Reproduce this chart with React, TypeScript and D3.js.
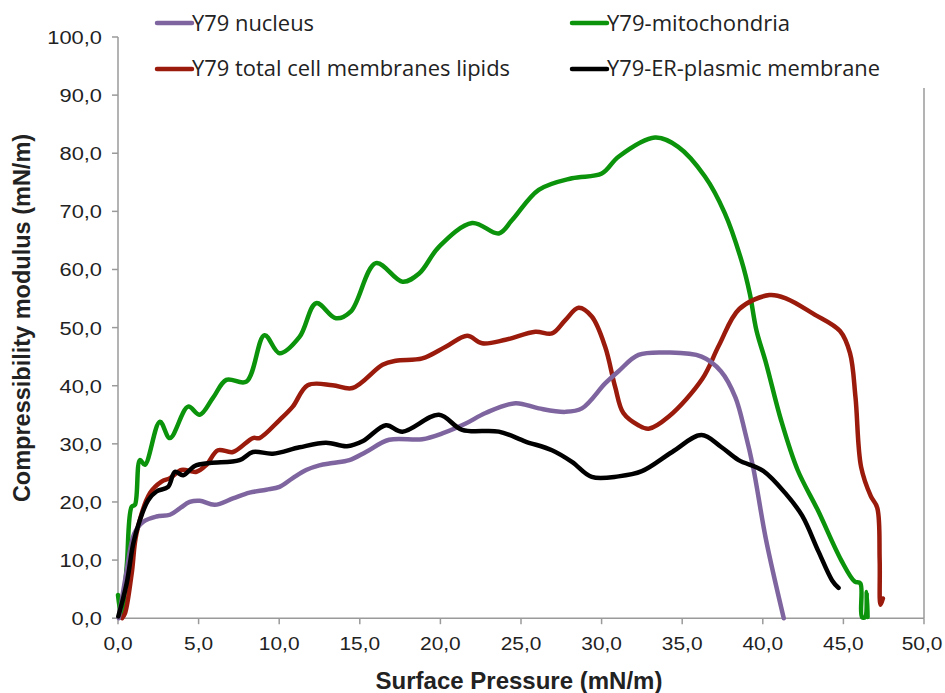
import React from "react";
import * as d3 from "d3";

const seriesNames = [
  "Y79 nucleus",
  "Y79-mitochondria",
  "Y79 total cell membranes lipids",
  "Y79-ER-plasmic membrane",
];
const seriesColors = ["#7F659F", "#0B930B", "#9A1B0C", "#000000"];

const nucleusData: [number, number][] = [
  [0.05, 0], [0.5, 7.5], [1.0, 14.5], [1.57, 16.6], [2.39, 17.5], [3.22, 17.8], [3.83, 18.9],
  [4.45, 20.0], [5.07, 20.2], [6.0, 19.5], [7.13, 20.6], [8.16, 21.6], [9.2, 22.1], [10.02, 22.6],
  [10.84, 24.1], [11.67, 25.5], [12.49, 26.3], [13.31, 26.7], [14.35, 27.2], [15.38, 28.6],
  [16.82, 30.7], [18.88, 30.8], [20.12, 31.8], [21.57, 33.5], [22.8, 35.3], [24.66, 37.0],
  [26.1, 36.1], [27.75, 35.5], [28.78, 36.1], [30.22, 40.4], [31.05, 42.5], [32.29, 45.3],
  [34.17, 45.7], [36.2, 45.0], [37.4, 42.5], [38.3, 38.0], [38.9, 32.0], [39.4, 26.0],
  [40.2, 13.5], [41.3, 0],
];

const mitoData: [number, number][] = [
  [0.0, 4.0], [0.22, 0.3], [0.54, 8.9], [0.85, 19.2], [1.05, 19.5], [1.36, 27.2], [1.67, 26.4],
  [2.6, 33.8], [3.22, 31.0], [4.35, 36.4], [5.07, 35.0], [5.89, 37.9], [6.72, 41.0], [7.96, 40.7],
  [9.09, 48.7], [10.02, 45.6], [11.26, 48.4], [12.29, 54.2], [13.52, 51.6], [14.45, 52.8],
  [16.0, 61.1], [17.65, 57.9], [18.68, 59.3], [19.91, 63.9], [21.97, 68.0], [23.62, 66.2],
  [24.45, 68.5], [26.1, 73.7], [28.16, 75.7], [30.01, 76.5], [31.05, 79.4], [33.31, 82.7],
  [34.75, 81.1], [36.41, 76.0], [37.64, 69.7], [38.67, 61.6], [39.19, 55.9], [39.6, 49.6],
  [40.2, 43.9], [41.13, 34.1], [42.16, 25.5], [43.41, 18.6], [44.86, 10.0], [45.7, 6.3],
  [46.05, 6.0], [46.15, 0.2], [46.35, 0.2], [46.45, 4.5], [46.5, 0.2],
];

const lipidsData: [number, number][] = [
  [0.25, 0], [0.43, 0.8], [0.85, 7.7], [1.15, 14.6], [1.98, 21.5], [2.7, 23.5], [3.22, 24.1],
  [3.94, 25.5], [4.87, 25.2], [5.49, 26.4], [6.2, 28.9], [7.13, 28.6], [8.37, 31.0], [8.78, 31.0],
  [10.02, 34.1], [10.84, 36.4], [11.77, 40.1], [13.31, 40.1], [14.55, 39.6], [16.41, 43.6],
  [17.24, 44.3], [18.88, 44.7], [20.33, 46.7], [21.66, 48.6], [22.59, 47.3], [24.04, 47.9],
  [25.89, 49.3], [26.92, 49.0], [27.75, 51.3], [28.57, 53.4], [29.39, 51.9], [30.22, 46.7],
  [30.84, 39.8], [31.35, 35.3], [32.28, 33.2], [32.92, 32.6], [34.17, 34.7], [36.25, 41.2],
  [37.29, 47.0], [38.54, 53.2], [40.41, 55.6], [41.46, 55.0], [43.12, 52.4], [44.79, 49.4],
  [45.41, 45.6], [45.75, 38.0], [46.1, 26.0], [46.7, 21.0], [47.1, 19.0], [47.25, 10.0],
  [47.3, 2.3], [47.45, 3.4],
];

const erData: [number, number][] = [
  [0.02, 0.3], [0.54, 6.0], [0.95, 12.9], [1.36, 16.9], [1.87, 20.3], [2.39, 21.8], [3.11, 22.6],
  [3.53, 25.2], [4.04, 24.6], [4.76, 26.2], [5.69, 26.7], [7.54, 27.2], [8.37, 28.6], [9.6, 28.3],
  [11.26, 29.4], [12.9, 30.2], [14.2, 29.6], [15.2, 30.5], [16.62, 33.2], [17.64, 32.1],
  [19.91, 35.0], [21.35, 32.4], [23.62, 32.1], [25.28, 30.4], [26.92, 28.9], [28.16, 26.9],
  [29.39, 24.3], [31.05, 24.4], [32.5, 25.3], [34.38, 28.6], [36.2, 31.5], [37.4, 29.5],
  [38.5, 27.2], [40.0, 25.4], [41.46, 21.3], [42.45, 17.6], [43.45, 11.5], [44.3, 6.5],
  [44.7, 5.2],
];

const xTicks = [0, 5, 10, 15, 20, 25, 30, 35, 40, 45, 50];
const yTicks = [0, 10, 20, 30, 40, 50, 60, 70, 80, 90, 100];
const xTitle = "Surface Pressure (mN/m)";
const yTitle = "Compressibility modulus (mN/m)";

const W = 945;
const H = 693;
const fmt = (v: number) => d3.format(".1f")(v).replace(".", ",");

export default function App() {
  const x = d3.scaleLinear().domain([0, 50]).range([118, 924]);
  const y = d3.scaleLinear().domain([0, 100]).range([618.2, 37]);
  const line = d3
    .line<[number, number]>()
    .x((d) => x(d[0]))
    .y((d) => y(d[1]))
    .curve(d3.curveCatmullRom.alpha(0.5));

  const series = [nucleusData, mitoData, lipidsData, erData];
  const drawOrder = [1, 2, 0, 3];
  const axisColor = "#9a9a9a";
  const tickFont = "'Liberation Sans', Arial, sans-serif";

  const legendPos = [
    { lx: 157, ly: 23, tx: 192, ty: 31, len: 122 },
    { lx: 572, ly: 23, tx: 607, ty: 31, len: 183 },
    { lx: 157, ly: 69, tx: 192, ty: 76, len: 318 },
    { lx: 572, ly: 69, tx: 607, ty: 76, len: 273 },
  ];

  return (
    <svg
      width={W}
      height={H}
      style={{ position: "absolute", left: 0, top: 0, background: "#fff" }}
    >
      <rect x={0} y={0} width={W} height={H} fill="#fff" />
      <line x1={x(0)} x2={x(0)} y1={y(100)} y2={y(0)} stroke={axisColor} strokeWidth={1.5} />
      <line x1={x(0)} x2={x(50)} y1={y(0)} y2={y(0)} stroke={axisColor} strokeWidth={1.5} />
      <line x1={x(50)} x2={x(50)} y1={88} y2={y(0)} stroke={axisColor} strokeWidth={1.5} />
      {yTicks.map((t) => (
        <g key={"y" + t}>
          <line x1={x(0) - 6} x2={x(0)} y1={y(t)} y2={y(t)} stroke={axisColor} strokeWidth={1.5} />
          <text
            transform={`translate(${x(0) - 16},${y(t) + 7}) scale(1.15,1)`}
            textAnchor="end"
            fontFamily={tickFont}
            fontSize={19}
            fill="#222"
          >
            {fmt(t)}
          </text>
        </g>
      ))}
      {xTicks.map((t) => (
        <g key={"x" + t}>
          <line x1={x(t)} x2={x(t)} y1={y(0)} y2={y(0) + 6} stroke={axisColor} strokeWidth={1.5} />
          <text
            transform={`translate(${Math.min(x(t), 922)},${y(0) + 32}) scale(1.1,1)`}
            textAnchor="middle"
            fontFamily={tickFont}
            fontSize={19}
            fill="#222"
          >
            {fmt(t)}
          </text>
        </g>
      ))}
      <text
        x={519}
        y={689}
        textAnchor="middle"
        fontFamily={tickFont}
        fontWeight="bold"
        fontSize={24}
        fill="#222"
      >
        {xTitle}
      </text>
      <text
        transform={`translate(30,318) rotate(-90)`}
        textAnchor="middle"
        fontFamily={tickFont}
        fontWeight="bold"
        fontSize={23.5}
        fill="#222"
      >
        {yTitle}
      </text>
      {drawOrder.map((i) => (
        <path
          key={"s" + i}
          d={line(series[i]) || ""}
          fill="none"
          stroke={seriesColors[i]}
          strokeWidth={4.5}
          strokeLinejoin="round"
          strokeLinecap="round"
        />
      ))}
      {seriesNames.map((name, i) => {
        const p = legendPos[i];
        return (
          <g key={"l" + i}>
            <line
              x1={p.lx}
              x2={p.lx + 35}
              y1={p.ly}
              y2={p.ly}
              stroke={seriesColors[i]}
              strokeWidth={4.5}
              strokeLinecap="round"
            />
            <text
              x={p.tx}
              y={p.ty}
              fontFamily="'Open Sans', 'Noto Sans', sans-serif"
              fontSize={21}
              fill="#222"
              textLength={p.len}
              lengthAdjust="spacingAndGlyphs"
            >
              {name}
            </text>
          </g>
        );
      })}
    </svg>
  );
}
